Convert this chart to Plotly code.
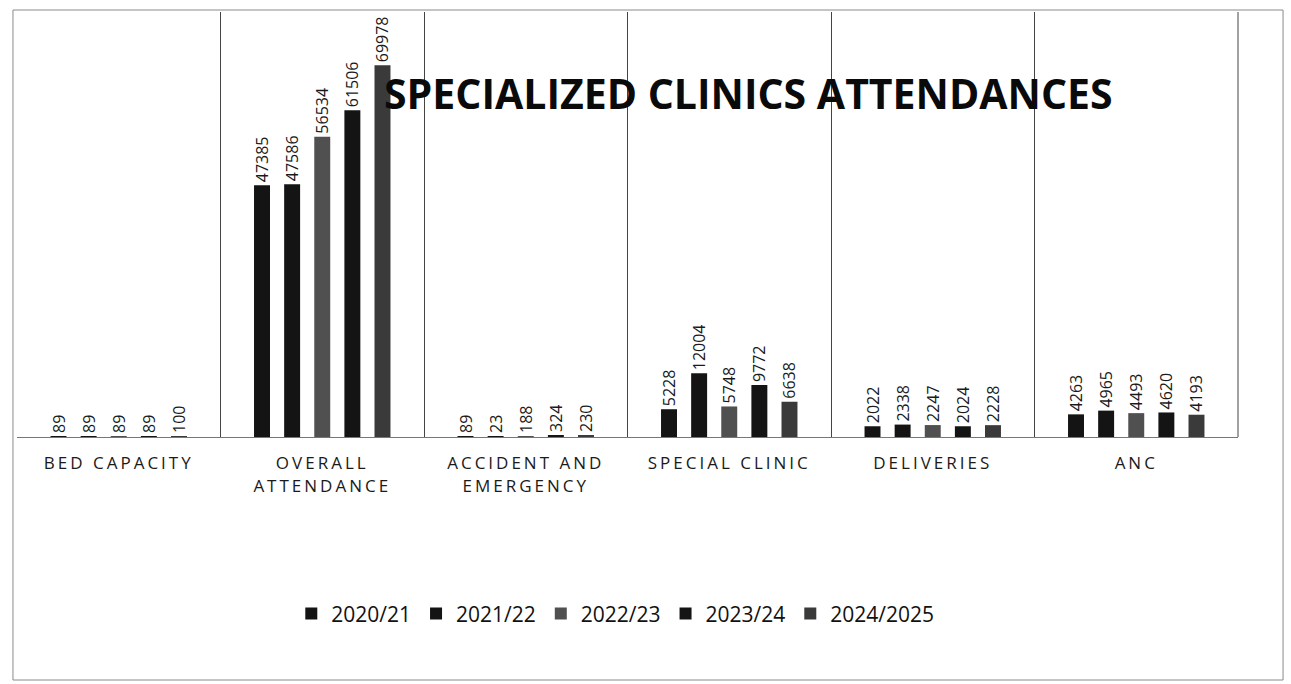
import plotly.graph_objects as go

categories = ["BED CAPACITY", "OVERALL<br>ATTENDANCE", "ACCIDENT AND<br>EMERGENCY",
              "SPECIAL CLINIC", "DELIVERIES", "ANC"]
series_names = ["2020/21", "2021/22", "2022/23", "2023/24", "2024/2025"]
v_2020_21 = [89, 47385, 89, 5228, 2022, 4263]
v_2021_22 = [89, 47586, 23, 12004, 2338, 4965]
v_2022_23 = [89, 56534, 188, 5748, 2247, 4493]
v_2023_24 = [89, 61506, 324, 9772, 2024, 4620]
v_2024_2025 = [100, 69978, 230, 6638, 2228, 4193]
values = [v_2020_21, v_2021_22, v_2022_23, v_2023_24, v_2024_2025]
colors = ["#141414", "#141414", "#505050", "#141414", "#3a3a3a"]

fig = go.Figure()
for name, vals, col in zip(series_names, values, colors):
    fig.add_trace(go.Bar(
        name=name, x=categories, y=vals, marker=dict(color=col, line=dict(width=0)),
        text=[str(v) for v in vals], textposition="outside", textangle=-90,
        constraintext="none", cliponaxis=False,
        textfont=dict(family="Open Sans", size=16, color="#1a1a1a"),
    ))

sp = '<span style="letter-spacing:3px">'
tick_text = [sp + c.replace("<br>", '</span><br>' + sp) + '</span>' for c in categories]

fig.update_layout(
    width=1291, height=684,
    margin=dict(l=17, r=53, t=12, b=247),
    paper_bgcolor="white", plot_bgcolor="white",
    barmode="group", bargap=0.26, bargroupgap=0.47,
    font=dict(family="Open Sans", color="#1a1a1a"),
    showlegend=True,
    legend=dict(orientation="h", x=0.49, xanchor="center", y=-0.416, yanchor="middle",
                font=dict(family="Open Sans", size=21, color="#111"), traceorder="normal"),
    annotations=[dict(text="<b>SPECIALIZED CLINICS ATTENDANCES</b>", xref="paper", yref="paper",
                      x=0.599, y=0.809, xanchor="center", yanchor="middle", showarrow=False,
                      font=dict(family="Open Sans", size=41, color="#0a0a0a"))],
    shapes=[dict(type="rect", xref="paper", yref="paper", x0=-0.0033, x1=1.0369, y0=-0.5718, y1=1.0047,
                 line=dict(color="#8a8a8a", width=1), layer="below"),
            dict(type="line", xref="paper", yref="paper", x0=1, x1=1, y0=0, y1=1,
                 line=dict(color="#444", width=1), layer="below")],
)
fig.update_xaxes(type="category", tickson="boundaries", showgrid=True, gridcolor="#444", gridwidth=1,
                 showline=True, linecolor="#777", linewidth=1, ticks="", ticklabelstandoff=11,
                 tickvals=categories, ticktext=tick_text,
                 tickfont=dict(family="Open Sans", size=17, color="#1a1a1a"))
fig.update_yaxes(range=[0, 80000], visible=False)

fig.write_html("out.html")
